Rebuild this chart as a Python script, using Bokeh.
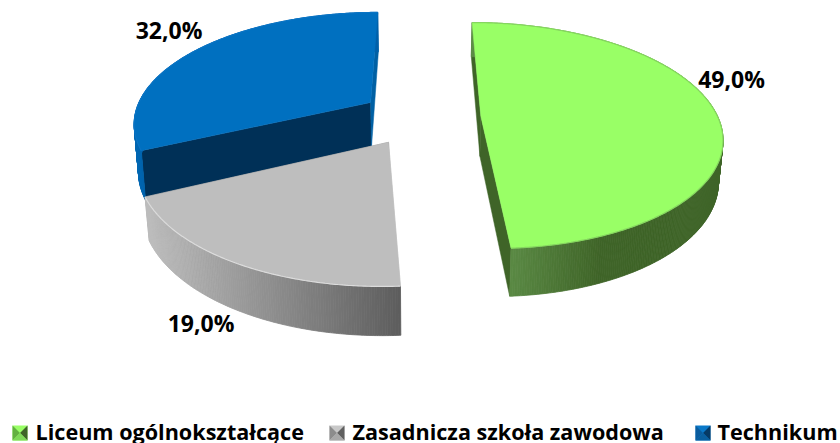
import math
from bokeh.plotting import figure
from bokeh.models import Range1d
from bokeh.core.properties import value
from bokeh.embed import file_html
from bokeh.resources import INLINE

categories = ["Liceum ogólnokształcące", "Zasadnicza szkoła zawodowa", "Technikum"]
shares = [49.0, 19.0, 32.0]
labels = ["49,0%", "19,0%", "32,0%"]

# styles
top_col = ["#99ff66", "#bebebe", "#0070c0"]
rim_edge = ["#86d660", "#dcdcdc", "#0a74c4"]
rim_stops = [[(505, (92, 140, 70)), (600, (63, 100, 40)), (730, (63, 100, 40))],
             [(145, (190, 190, 190)), (402, (92, 92, 92))],
             [(130, (0, 108, 186)), (145, (0, 96, 168))]]
face_col = [["#3f6428", "#3f6428"], ["#c8c8c8", "#909090"], ["#003057", "#0060a4"]]
depth = [40.0, 39.0, 47.0]
label_pos = [(731, 78), (200.5, 322), (168.5, 29)]
legend_marker_x = [12, 329, 695]
legend_text_x = [35, 352, 717]
legend_top = ["#99ff66", "#c8c8c8", "#0a78c8"]
legend_left = ["#62b040", "#8c8c8c", "#0a5c9e"]
legend_right = ["#3f6428", "#606060", "#063a66"]
legend_mid = ["#7ed858", "#a8a8a8", "#0a5f9f"]

# camera
XC, YC, RX, RY, K, E, BOT = 420.0, 116.7, 237.0, 110.0, 0.17, 0.255, 0.985


def proj(X, Z, h=None):
    s = 1 + K * Z
    x = RX * X / s
    y = YC - RY * Z / s
    if h is not None:
        return XC + x * BOT, y + h / s
    return XC + x, y


def lerp_col(stops, x):
    if x <= stops[0][0]:
        c = stops[0][1]
    elif x >= stops[-1][0]:
        c = stops[-1][1]
    else:
        for (a, ca), (b, cb) in zip(stops, stops[1:]):
            if a <= x <= b:
                t = (x - a) / (b - a)
                c = tuple(ca[i] + (cb[i] - ca[i]) * t for i in range(3))
                break
    return "#%02x%02x%02x" % tuple(int(round(v)) for v in c)


p = figure(width=840, height=443, x_range=Range1d(0, 840), y_range=Range1d(443, 0),
           output_backend="svg", toolbar_location=None, min_border=0, outline_line_color=None)
p.axis.visible = False
p.grid.visible = False
p.background_fill_color = "white"
p.border_fill_color = "white"

total = sum(shares)
spans = []
acc = 0.0
for v in shares:
    spans.append((acc / total * 360, (acc + v) / total * 360))
    acc += v

order = [2, 1, 0]
for i in order:
    a0, a1 = spans[i]
    h = depth[i]
    mid = math.radians((a0 + a1) / 2)
    ox, oz = E * math.sin(mid), E * math.cos(mid)
    n = int(a1 - a0) * 2
    ang = [math.radians(a0 + (a1 - a0) * j / n) for j in range(n + 1)]
    outer = [(ox + math.sin(t), oz + math.cos(t)) for t in ang]

    for (pt, col) in ((outer[0], face_col[i][0]), (outer[-1], face_col[i][1])):
        q = [proj(ox, oz), proj(*pt), proj(*pt, h), proj(ox, oz, h)]
        p.patch([c[0] for c in q], [c[1] for c in q], fill_color=col, line_color=col, line_width=0.5)

    xs, ys, cols = [], [], []
    for u, w in zip(outer, outer[1:]):
        q = [proj(*u), proj(*w), proj(*w, h), proj(*u, h)]
        xs.append([c[0] for c in q])
        ys.append([c[1] for c in q])
        cols.append(lerp_col(rim_stops[i], sum(c[0] for c in q) / 4))
    p.patches(xs, ys, fill_color=cols, line_color=cols, line_width=0.8)

    pts = [proj(ox, oz)] + [proj(*u) for u in outer]
    p.patch([c[0] for c in pts], [c[1] for c in pts], fill_color=top_col[i], line_color=top_col[i], line_width=0.5)
    arc = [proj(*u) for u in outer]
    p.line([c[0] for c in arc], [c[1] for c in arc], line_color=rim_edge[i], line_width=1.2)

p.text([c[0] for c in label_pos], [c[1] for c in label_pos], text=labels,
       text_font=value("Open Sans"), text_font_style="bold", text_font_size="23px",
       text_color="#000000", text_align="center", text_baseline="middle")

for i, name in enumerate(categories):
    x0, x1, y0, y1 = legend_marker_x[i], legend_marker_x[i] + 15, 425, 440
    xm, ym = (x0 + x1) / 2, (y0 + y1) / 2
    p.quad(left=[x0], right=[x1], top=[y0], bottom=[y1], fill_color=legend_top[i], line_color=None)
    p.patch([x0, xm, x0], [y0, ym, y1], fill_color=legend_left[i], line_color=None)
    p.patch([x1, xm, x1], [y0, ym, y1], fill_color=legend_right[i], line_color=None)
    p.patch([x0, xm, x1], [y1, ym, y1], fill_color=legend_mid[i], line_color=None)
p.text(legend_text_x, [430.5] * 3, text=categories,
       text_font=value("Open Sans"), text_font_style="bold", text_font_size="21.6px",
       text_color="#000000", text_align="left", text_baseline="middle")

open("out.html", "w").write(file_html(p, INLINE))
